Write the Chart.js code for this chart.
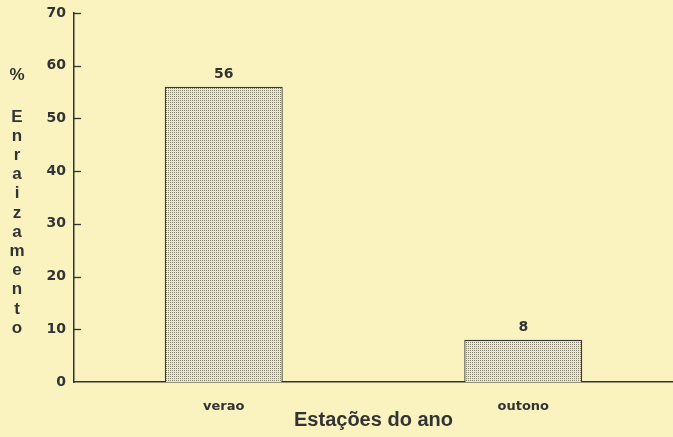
<!DOCTYPE html>
<html>
<head>
<meta charset="utf-8">
<script src="https://cdn.jsdelivr.net/npm/chart.js@4/dist/chart.umd.min.js"></script>
<style>
  html, body { margin: 0; padding: 0; background: #faf3c0; }
  #chart { display: block; }
</style>
</head>
<body>
<canvas id="chart" width="673" height="437"></canvas>
<script>
const seasons = ["verao", "outono"];
const rooting = [56, 8];
const yTicks = [0, 10, 20, 30, 40, 50, 60, 70];
const xTitle = "Estações do ano";
const yTitleLines = ["%", "", "E", "n", "r", "a", "i", "z", "a", "m", "e", "n", "t", "o"];

const ink = "#333333";

// stipple fill for the bars
function makeStipple() {
  const c = document.createElement("canvas");
  c.width = 2;
  c.height = 2;
  const g = c.getContext("2d");
  g.fillStyle = "#efe8c0";
  g.fillRect(0, 0, 2, 2);
  g.fillStyle = "#85816f";
  g.fillRect(0, 0, 1, 1);
  return g.createPattern(c, "repeat");
}

const extras = {
  id: "extras",
  afterDraw(chart) {
    const { ctx } = chart;
    const y = chart.scales.y;

    // inward tick marks
    ctx.save();
    ctx.strokeStyle = ink;
    ctx.lineWidth = 1.3;
    y.ticks.forEach(t => {
      if (t.value === 0) return;
      const py = Math.round(y.getPixelForValue(t.value)) + 0.5;
      ctx.beginPath();
      ctx.moveTo(y.right, py);
      ctx.lineTo(y.right + 7, py);
      ctx.stroke();
    });

    // value labels above bars
    ctx.fillStyle = ink;
    ctx.font = "bold 14px 'DejaVu Sans'";
    ctx.textAlign = "center";
    ctx.textBaseline = "middle";
    const meta = chart.getDatasetMeta(0);
    meta.data.forEach((bar, i) => {
      ctx.fillText(String(rooting[i]), bar.x, bar.y - 12);
    });

    // stacked y title
    ctx.font = "bold 17px 'Liberation Sans'";
    let ty = 117;
    yTitleLines.forEach((ch, i) => {
      if (i === 0) {
        ctx.fillText(ch, 17, 75);
        return;
      }
      if (ch === "") return;
      ctx.fillText(ch, 17, ty);
      ty += 19.2;
    });
    ctx.restore();
  }
};

new Chart(document.getElementById("chart"), {
  type: "bar",
  data: {
    labels: seasons,
    datasets: [{
      data: rooting,
      backgroundColor: makeStipple(),
      borderColor: "#3a3a3a",
      borderWidth: 1.3,
      barPercentage: 0.394,
      categoryPercentage: 1
    }]
  },
  options: {
    responsive: false,
    animation: false,
    devicePixelRatio: 1,
    layout: { padding: { top: 13, left: 0, right: 0, bottom: 0 } },
    plugins: {
      legend: { display: false },
      tooltip: { enabled: false }
    },
    scales: {
      x: {
        grid: { display: false },
        border: { display: true, color: ink, width: 1.5 },
        ticks: {
          color: ink,
          font: { family: "DejaVu Sans", weight: "bold", size: 13 },
          padding: 9
        },
        title: {
          display: true,
          text: xTitle,
          color: "#333333",
          font: { family: "Liberation Sans", weight: "bold", size: 20 },
          padding: { top: 0, bottom: 5 }
        },
        afterFit(scale) { scale.height = 55; }
      },
      y: {
        min: 0,
        max: 70,
        grid: { display: false },
        border: { display: true, color: ink, width: 1.5 },
        afterBuildTicks(scale) {
          scale.ticks = yTicks.map(v => ({ value: v }));
        },
        ticks: {
          color: ink,
          font: { family: "DejaVu Sans", weight: "bold", size: 14 },
          padding: 0
        },
        afterFit(scale) { scale.width = 74; }
      }
    }
  },
  plugins: [extras]
});
</script>
</body>
</html>
